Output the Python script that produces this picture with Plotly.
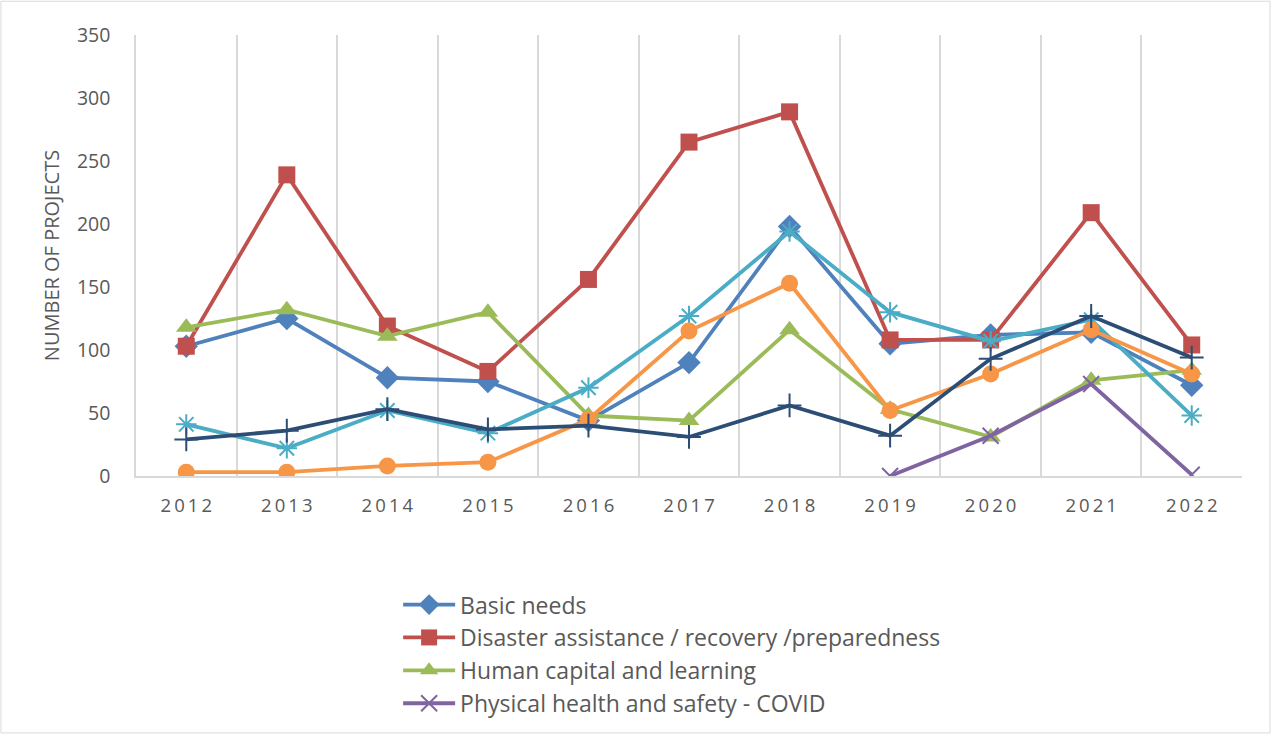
import plotly.graph_objects as go

# Project counts per category and year
years = ["2012", "2013", "2014", "2015", "2016", "2017", "2018", "2019", "2020", "2021", "2022"]
year_labels = ["2\u20090\u20091\u20092", "2\u20090\u20091\u20093", "2\u20090\u20091\u20094", "2\u20090\u20091\u20095",
               "2\u20090\u20091\u20096", "2\u20090\u20091\u20097", "2\u20090\u20091\u20098", "2\u20090\u20091\u20099",
               "2\u20090\u20092\u20090", "2\u20090\u20092\u20091", "2\u20090\u20092\u20092"]

basic_needs = [103, 125, 78, 75, 44, 90, 198, 105, 112, 114, 72]
disaster = [103, 239, 119, 83, 156, 265, 289, 108, 108, 209, 104]
human_capital = [118, 132, 111, 130, 48, 44, 116, 53, 31, 76, 84]
covid_years = ["2019", "2020", "2021", "2022"]
covid = [0, 32, 73, 1]
series_5 = [41, 22, 52, 34, 70, 127, 194, 130, 107, 124, 48]
series_6 = [3, 3, 8, 11, 45, 115, 153, 52, 81, 116, 81]
series_7 = [29, 36, 53, 37, 40, 31, 56, 32, 93, 127, 94]

fig = go.Figure()

def add(x, y, name, color, symbol, size, legend=True, open_marker=False):
    marker = dict(symbol=symbol, size=size, color=color)
    if open_marker:
        marker["line"] = dict(color=color, width=2)
    fig.add_trace(go.Scatter(
        x=x, y=y, name=name, mode="lines+markers", legendgroup=name,
        line=dict(color=color, width=3.8),
        marker=marker, showlegend=legend,
    ))

add(years, basic_needs, "Basic needs", "#4F81BD", "diamond", 18)
add(years, disaster, "Disaster assistance / recovery /preparedness", "#C0504D", "square", 17)
add(years, human_capital, "Human capital and learning", "#9BBB59", "triangle-up", 18)
add(covid_years, covid, "Physical health and safety - COVID", "#8064A2", "x-thin-open", 16, open_marker=True)
add(years, series_5, "Series 5", "#4BACC6", "asterisk-open", 17, legend=False, open_marker=True)
add(years, series_6, "Series 6", "#F79646", "circle", 17, legend=False)
add(years, series_7, "Series 7", "#2C4D75", "cross-thin-open", 17, legend=False, open_marker=True)

font_family = "Open Sans, Liberation Sans, sans-serif"
grey_text = "#595959"

fig.update_layout(
    width=1271, height=736,
    margin=dict(l=136, r=29, t=35, b=259),
    paper_bgcolor="white", plot_bgcolor="white",
    font=dict(family=font_family, color=grey_text),
    xaxis=dict(
        type="category", categoryorder="array", categoryarray=years,
        tickvals=years, ticktext=year_labels,
        tickson="boundaries", ticks="",
        showgrid=True, gridcolor="#D9D9D9", gridwidth=1.5,
        showline=True, linecolor="#D9D9D9", linewidth=1.5,
        tickfont=dict(size=18.5, color=grey_text),
        ticklabelstandoff=12,
        range=[-0.5, 10.5],
    ),
    yaxis=dict(
        range=[0, 350], dtick=50, showgrid=False, zeroline=False,
        showline=True, linecolor="#D9D9D9", linewidth=1.5, ticks="",
        tickfont=dict(size=19.5, color=grey_text),
        ticklabelstandoff=20,
        title=dict(text="NUMBER OF PROJECTS", font=dict(size=20, color=grey_text), standoff=12),
    ),
    legend=dict(
        x=0.237, y=-0.24, xanchor="left", yanchor="top",
        font=dict(size=23, color=grey_text), bgcolor="rgba(0,0,0,0)",
        traceorder="grouped", tracegroupgap=0, itemwidth=52, borderwidth=0,
    ),
    shapes=[dict(type="rect", xref="paper", yref="paper", x0=-0.1221, x1=1.0253, y0=-0.5826, y1=1.0765,
                 line=dict(color="#D9D9D9", width=1), layer="below")],
)

fig.write_html("out.html")
